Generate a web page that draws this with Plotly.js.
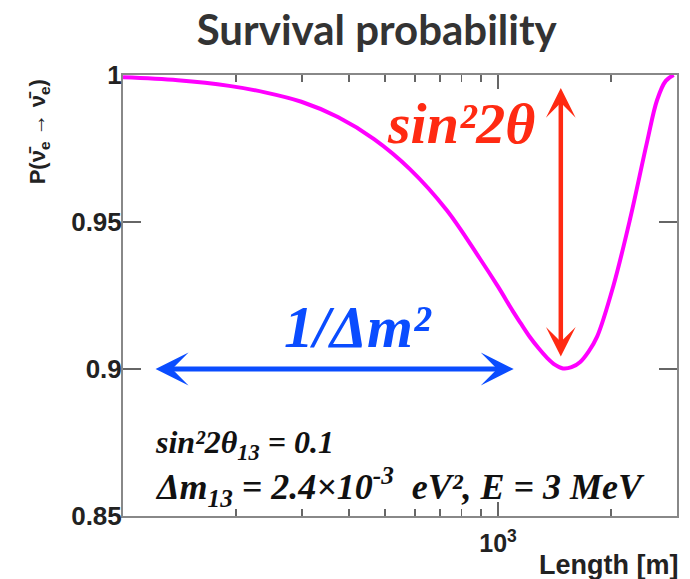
<!DOCTYPE html>
<html>
<head>
<meta charset="utf-8">
<script src="https://cdn.plot.ly/plotly-3.0.1.min.js"></script>
<style>html,body{margin:0;padding:0;background:#fff;}#chart{width:690px;height:579px;}</style>
</head>
<body>
<div id="chart"></div>
<script>
// Curve: baseline length L [m] and survival probability P
const lengthM = [100, 140, 192, 239, 299, 374, 467, 582, 730, 895, 1000, 1096, 1150, 1217, 1280, 1351, 1420, 1490, 1570, 1656, 1745, 1837, 2027, 2249, 2494, 2655, 2800, 2940];
const survivalP = [0.9992, 0.9982, 0.9963, 0.9941, 0.9909, 0.9857, 0.9782, 0.9680, 0.954, 0.9375, 0.928, 0.9196, 0.9155, 0.9108, 0.9072, 0.9038, 0.9014, 0.9002, 0.9006, 0.9024, 0.906, 0.911, 0.928, 0.951, 0.977, 0.9915, 0.998, 1.0];

const yTickVals = [0.85, 0.9, 0.95, 1];
const yTickText = ["0.85", "0.9", "0.95", "1"];
const xTickVals = [1000];
const xTickText = ["10<sup>3</sup>"];
const xMinorVals = [200, 300, 400, 500, 600, 700, 800, 900, 2000];

// Annotation arrows (data coordinates)
const ampArrowL = 1470, ampArrowTop = 0.9956, ampArrowBottom = 0.9037;
const massArrowY = 0.9, massArrowLeft = 121, massArrowRight = 1101;

const trace = {
  x: lengthM, y: survivalP, type: 'scatter', mode: 'lines',
  line: {color: '#ff00ff', width: 4, shape: 'spline', smoothing: 1},
  hoverinfo: 'skip', cliponaxis: false
};

const serif = 'Liberation Serif, Times New Roman, serif';
const sans = 'Liberation Sans, Arial, sans-serif';

const layout = {
  width: 690, height: 579,
  margin: {l: 123, r: 13, t: 75, b: 63},
  paper_bgcolor: '#fff', plot_bgcolor: '#fff',
  showlegend: false,
  title: {text: 'Survival probability', x: 0.546, xanchor: 'center', y: 0.948, yanchor: 'middle',
          font: {family: 'Lato, Open Sans, sans-serif', size: 42, color: '#333', weight: 'bold'}},
  xaxis: {
    type: 'log', range: [2, Math.log10(3000)],
    showline: true, linecolor: '#888', linewidth: 2, mirror: 'ticks',
    showgrid: false, zeroline: false,
    ticks: 'inside', ticklen: 14, tickwidth: 1.5, tickcolor: '#666',
    tickmode: 'array', tickvals: xTickVals, ticktext: xTickText,
    tickfont: {family: sans, size: 25, color: '#222', weight: 'bold'},
    ticklabelstandoff: 4,
    minor: {tickmode: 'array', tickvals: xMinorVals, ticks: 'inside', ticklen: 7, tickwidth: 1.5, tickcolor: '#666', showgrid: false}
  },
  yaxis: {
    range: [0.85, 1.0],
    showline: true, linecolor: '#888', linewidth: 2, mirror: 'ticks',
    showgrid: false, zeroline: false,
    ticks: 'inside', ticklen: 18, tickwidth: 1.5, tickcolor: '#666',
    tickmode: 'array', tickvals: yTickVals, ticktext: yTickText,
    tickfont: {family: sans, size: 26, color: '#222', weight: 'bold'},
    ticklabelstandoff: -6
  },
  annotations: [
    {xref: 'x', yref: 'y', axref: 'x', ayref: 'y',
     x: Math.log10(ampArrowL), y: ampArrowTop, ax: Math.log10(ampArrowL), ay: ampArrowBottom,
     showarrow: true, arrowside: 'end+start', arrowhead: 3, arrowsize: 1.1, arrowwidth: 4.5, arrowcolor: '#ff2a12', text: ''},
    {xref: 'x', yref: 'y', axref: 'x', ayref: 'y',
     x: Math.log10(massArrowRight), y: massArrowY, ax: Math.log10(massArrowLeft), ay: massArrowY,
     showarrow: true, arrowside: 'end+start', arrowhead: 3, arrowsize: 1.1, arrowwidth: 5, arrowcolor: '#0a4cff', text: ''},
    {xref: 'paper', yref: 'paper', x: 0.747, y: 0.89, xanchor: 'right', yanchor: 'middle', showarrow: false,
     text: '<b><i>sin²2θ</i></b>', font: {family: serif, size: 58, color: '#ff2a12'}},
    {xref: 'paper', yref: 'paper', x: 0.4236, y: 0.428, xanchor: 'center', yanchor: 'middle', showarrow: false,
     text: '<b><i>1/Δm²</i></b>', font: {family: serif, size: 59, color: '#0a4cff'}},
    {xref: 'paper', yref: 'paper', x: 0.054, y: 0.163, xanchor: 'left', yanchor: 'middle', showarrow: false,
     text: '<b><i>sin²2θ<sub>13</sub> = 0.1</i></b>', font: {family: serif, size: 32, color: '#111'}},
    {xref: 'paper', yref: 'paper', x: 0.054, y: 0.066, xanchor: 'left', yanchor: 'middle', showarrow: false,
     text: '<b><i>Δm<sub>13</sub> = 2.4×10<sup>-3</sup>  eV², E = 3 MeV</i></b>', font: {family: serif, size: 36, color: '#111'}},
    {xref: 'paper', yref: 'paper', x: -0.15, y: 0.872, xanchor: 'center', yanchor: 'middle', showarrow: false, textangle: -90,
     text: '<b>P(ν̄<sub>e</sub> → ν̄<sub>e</sub>)</b>', font: {family: sans, size: 22, color: '#222'}},
    {xref: 'paper', yref: 'paper', x: 1, xshift: 3, y: -0.11, xanchor: 'right', yanchor: 'middle', showarrow: false,
     text: '<b>Length [m]</b>', font: {family: sans, size: 27, color: '#222'}}
  ]
};

Plotly.newPlot('chart', [trace], layout, {displayModeBar: false, staticPlot: true});
</script>
</body>
</html>
